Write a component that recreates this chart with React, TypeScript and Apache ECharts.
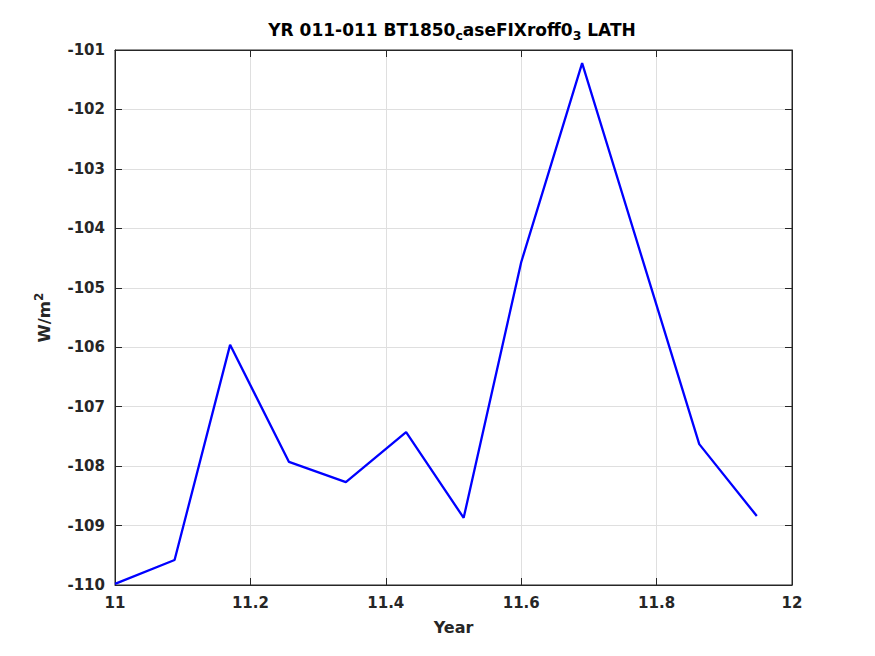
import React, { useEffect, useRef } from "react";
import * as echarts from "echarts";

const years = [11.0, 11.088, 11.17, 11.257, 11.341, 11.43, 11.515, 11.6, 11.69, 11.778, 11.863, 11.948];
const values = [-109.98, -109.58, -105.96, -107.93, -108.27, -107.43, -108.87, -104.57, -101.22, -104.48, -107.63, -108.84];
const xTicks = [11, 11.2, 11.4, 11.6, 11.8, 12];
const yTicks = [-110, -109, -108, -107, -106, -105, -104, -103, -102, -101];

const FONT = "DejaVu Sans";
const TXT = "#262626";

export default function App() {
  const ref = useRef<HTMLDivElement>(null);
  useEffect(() => {
    const chart = echarts.init(ref.current!, null, { renderer: "svg" });
    const axisCommon = {
      axisLine: { show: true, lineStyle: { color: TXT, width: 1 } },
      axisTick: { show: true, inside: true, length: 7, lineStyle: { color: TXT } },
    };
    chart.setOption({
      animation: false,
      backgroundColor: "#ffffff",
      title: {
        text: "{n|YR 011-011 BT1850}{s|c}{n|aseFIXroff0}{s|3}{n| LATH}",
        left: 447,
        textAlign: "center",
        top: 15,
        textStyle: {
          rich: {
            n: { fontFamily: FONT, fontWeight: "bold", fontSize: 17, color: "#000", lineHeight: 20 },
            s: { fontFamily: FONT, fontWeight: "bold", fontSize: 12.5, color: "#000", padding: [11, 0, 0, 0], lineHeight: 20 },
          },
        },
      },
      grid: { left: 115, right: 83, top: 50, bottom: 71, show: true, borderColor: TXT, borderWidth: 1 },
      xAxis: [
        {
          type: "value",
          min: 11,
          max: 12,
          interval: 0.2,
          ...axisCommon,
          splitLine: { show: true, lineStyle: { color: "#dfdfdf", width: 1 } },
          axisLabel: {
            margin: 10,
            fontFamily: FONT,
            fontWeight: "bold",
            fontSize: 15,
            color: TXT,
            formatter: (v: number) => {
              const t = xTicks.find((x) => Math.abs(x - v) < 1e-6);
              return t === undefined ? "" : String(t);
            },
          },
          name: "Year",
          nameLocation: "middle",
          nameGap: 34,
          nameTextStyle: { fontFamily: FONT, fontWeight: "bold", fontSize: 16, color: TXT },
        },
        {
          type: "value",
          position: "top",
          min: 11,
          max: 12,
          interval: 0.2,
          ...axisCommon,
          axisLabel: { show: false },
          splitLine: { show: false },
        },
      ],
      yAxis: [
        {
          type: "value",
          min: -110,
          max: -101,
          interval: 1,
          ...axisCommon,
          splitLine: { show: true, lineStyle: { color: "#dfdfdf", width: 1 } },
          axisLabel: {
            margin: 10,
            fontFamily: FONT,
            fontWeight: "bold",
            fontSize: 15,
            color: TXT,
            formatter: (v: number) => String(yTicks.find((y) => Math.abs(y - v) < 1e-6) ?? ""),
          },
          name: "{n|W/m}{p|2}",
          nameLocation: "middle",
          nameGap: 60,
          nameRotate: 90,
          nameTextStyle: {
            rich: {
              n: { fontFamily: FONT, fontWeight: "bold", fontSize: 16.5, color: TXT, lineHeight: 22 },
              p: { fontFamily: FONT, fontWeight: "bold", fontSize: 12, color: TXT, padding: [0, 0, 10, 0], lineHeight: 22 },
            },
          },
        },
        {
          type: "value",
          position: "right",
          min: -110,
          max: -101,
          interval: 1,
          ...axisCommon,
          axisLabel: { show: false },
          splitLine: { show: false },
        },
      ],
      series: [
        {
          type: "line",
          data: years.map((x, i) => [x, values[i]]),
          showSymbol: false,
          symbol: "none",
          lineStyle: { color: "#0000ff", width: 2.3 },
          xAxisIndex: 0,
          yAxisIndex: 0,
        },
      ],
    });
    return () => chart.dispose();
  }, []);
  return <div ref={ref} style={{ position: "fixed", left: 0, top: 0, width: 875, height: 656 }} />;
}
